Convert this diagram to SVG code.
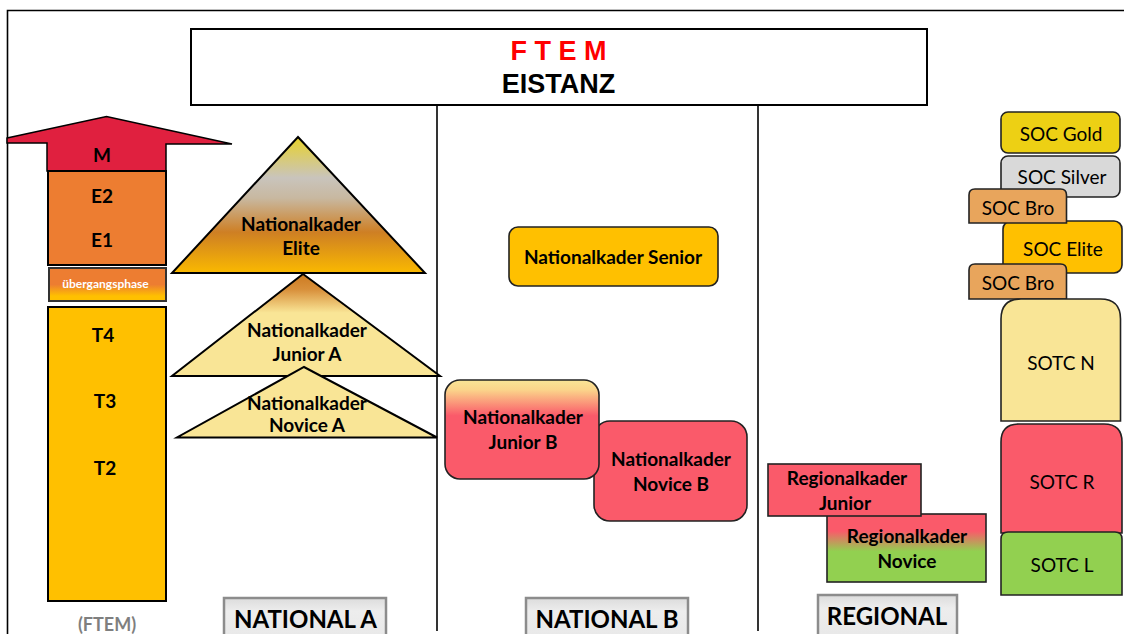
<svg xmlns="http://www.w3.org/2000/svg" width="1124" height="634" viewBox="0 0 1124 634">
<defs>
<linearGradient id="gElite" x1="0" y1="0" x2="0" y2="1">
<stop offset="0" stop-color="#E8D22A"/>
<stop offset="0.3" stop-color="#C9C4BC"/>
<stop offset="0.45" stop-color="#C8B8A0"/>
<stop offset="0.7" stop-color="#CE7F24"/>
<stop offset="1" stop-color="#FAB900"/>
</linearGradient>
<linearGradient id="gJunA" x1="0" y1="0" x2="0" y2="1">
<stop offset="0" stop-color="#CC7A20"/>
<stop offset="0.15" stop-color="#D88F3A"/>
<stop offset="0.38" stop-color="#F9E596"/>
<stop offset="1" stop-color="#F9E596"/>
</linearGradient>
<linearGradient id="gJunB" x1="0" y1="0" x2="0" y2="1">
<stop offset="0" stop-color="#F9E596"/>
<stop offset="0.1" stop-color="#FBD48A"/>
<stop offset="0.36" stop-color="#FA5A6A"/>
<stop offset="1" stop-color="#FA5A6A"/>
</linearGradient>
<linearGradient id="gRegN" x1="0" y1="0" x2="0" y2="1">
<stop offset="0" stop-color="#FA5A6A"/>
<stop offset="0.25" stop-color="#FA5A6A"/>
<stop offset="0.55" stop-color="#92D050"/>
<stop offset="1" stop-color="#92D050"/>
</linearGradient>
<linearGradient id="gUeb" x1="0" y1="0" x2="0" y2="1">
<stop offset="0" stop-color="#ED7D31"/>
<stop offset="0.5" stop-color="#ED7D31"/>
<stop offset="0.85" stop-color="#FFC000"/>
<stop offset="1" stop-color="#FFC000"/>
</linearGradient>
<linearGradient id="gLbl" x1="0" y1="0" x2="0" y2="1">
<stop offset="0" stop-color="#DCDCDC"/>
<stop offset="0.3" stop-color="#EDEDED"/>
<stop offset="1" stop-color="#E8E8E8"/>
</linearGradient>
</defs>
<style>
.b{font-family:Lato,"Liberation Sans",sans-serif;font-weight:bold;font-size:19px;fill:#000;text-anchor:middle}
.r{font-family:Lato,"Liberation Sans",sans-serif;font-size:19px;fill:#000;text-anchor:middle}
.s{stroke:#000;stroke-width:2}
.frame{stroke:#000;stroke-width:1.6;fill:none}
.lbl{fill:url(#gLbl);stroke:#8C8C8C;stroke-width:2.5}
.L{font-family:Lato,"Liberation Sans",sans-serif;font-weight:bold;font-size:24px;fill:#000;text-anchor:middle}
</style>
<rect width="1124" height="634" fill="#fff"/>
<g id="frame">
<path class="frame" d="M7.5,634 V10.5 H1124"/>
<line class="frame" x1="437" y1="105" x2="437" y2="631"/>
<line class="frame" x1="758" y1="105" x2="758" y2="631"/>
</g>
<g id="title">
<rect x="191" y="29" width="736" height="76" fill="#fff" stroke="#000" stroke-width="2"/>
<text x="558.5" y="60" font-family="Liberation Sans,Arial,sans-serif" font-weight="bold" font-size="27" fill="#FF0000" text-anchor="middle">F T E M</text>
<text x="558.5" y="93" font-family="Liberation Sans,Arial,sans-serif" font-weight="bold" font-size="27" fill="#000" text-anchor="middle">EISTANZ</text>
</g>
<g id="ftem-column">
<g id="arrow-M">
<path d="M7,138 L106.5,116.5 L232,144 L166,144 L166,171 L47,171 L47,143 L7,143 Z" fill="#E0203F" stroke="#000" stroke-width="1.5"/>
<text class="b" x="102" y="162">M</text>
</g>
<g id="E">
<rect class="s" x="48" y="171" width="118" height="94" fill="#ED7D31"/>
<text class="b" x="102" y="203">E2</text>
<text class="b" x="102" y="247">E1</text>
</g>
<g id="uebergang">
<rect x="49" y="268" width="117" height="33" fill="url(#gUeb)" stroke="#333" stroke-width="2"/>
<text x="105.5" y="288" font-family="Lato,'Liberation Sans',sans-serif" font-weight="bold" font-size="12" fill="#fff" text-anchor="middle">übergangsphase</text>
</g>
<g id="T">
<rect class="s" x="48" y="307" width="118" height="294" fill="#FFC000"/>
<text class="b" x="103" y="342">T4</text>
<text class="b" x="105" y="408">T3</text>
<text class="b" x="105" y="475">T2</text>
</g>
<text x="107" y="631" font-family="Lato,'Liberation Sans',sans-serif" font-weight="bold" font-size="18" fill="#7F7F7F" text-anchor="middle">(FTEM)</text>
</g>
<g id="nk-elite">
<polygon class="s" points="298,137 425,273 172,273" fill="url(#gElite)"/>
<text class="b" x="301" y="231">Nationalkader</text>
<text class="b" x="301" y="255">Elite</text>
</g>
<g id="nk-junior-a">
<polygon class="s" points="303,274 440,376 172,376" fill="url(#gJunA)"/>
<text class="b" x="307" y="337">Nationalkader</text>
<text class="b" x="307" y="361">Junior A</text>
</g>
<g id="nk-novice-a">
<polygon class="s" points="304,367 437,437.5 177,437.5" fill="#F9E596"/>
<text class="b" x="307" y="410" font-size="17">Nationalkader</text>
<text class="b" x="307" y="432" font-size="17">Novice A</text>
</g>
<g id="nk-senior">
<rect x="509" y="227" width="209" height="59" rx="9" fill="#FFC000" stroke="#222" stroke-width="1.6"/>
<text class="b" x="613" y="264">Nationalkader Senior</text>
</g>
<g id="nk-novice-b">
<rect x="594" y="421" width="153" height="100" rx="16" fill="#FA5A6A" stroke="#222" stroke-width="1.6"/>
<text class="b" x="671" y="466">Nationalkader</text>
<text class="b" x="671" y="491">Novice B</text>
</g>
<g id="nk-junior-b">
<rect x="445" y="380" width="154" height="99" rx="15" fill="url(#gJunB)" stroke="#222" stroke-width="1.6"/>
<text class="b" x="523" y="424">Nationalkader</text>
<text class="b" x="523" y="449">Junior B</text>
</g>
<g id="rk-novice">
<rect x="827" y="514" width="159" height="68" fill="url(#gRegN)" stroke="#222" stroke-width="1.6"/>
<text class="b" x="907" y="543">Regionalkader</text>
<text class="b" x="907" y="568">Novice</text>
</g>
<g id="rk-junior">
<rect x="768" y="464" width="153" height="52" fill="#FA5A6A" stroke="#222" stroke-width="1.6"/>
<text class="b" x="847" y="485">Regionalkader</text>
<text class="b" x="845" y="510">Junior</text>
</g>
<g id="soc-gold">
<rect x="1001" y="112" width="119" height="41" rx="7" fill="#EDD014" stroke="#222" stroke-width="1.6"/>
<text class="r" x="1061" y="141">SOC Gold</text>
</g>
<g id="soc-silver">
<rect x="1001" y="156" width="119" height="41" rx="7" fill="#D9D9D9" stroke="#222" stroke-width="1.6"/>
<text class="r" x="1062" y="184">SOC Silver</text>
</g>
<g id="soc-elite">
<rect x="1003" y="221" width="119" height="52" rx="8" fill="#FFC000" stroke="#222" stroke-width="1.6"/>
<text class="r" x="1063" y="256">SOC Elite</text>
</g>
<g id="soc-bro-1">
<path d="M969,223 V195 Q969,189 975,189 H1060.5 Q1066.5,189 1066.5,195 V223 Z" fill="#E8A55C" stroke="#222" stroke-width="1.6"/>
<text class="r" x="1018" y="215">SOC Bro</text>
</g>
<g id="soc-bro-2">
<path d="M969,299 V270 Q969,264 975,264 H1060.5 Q1066.5,264 1066.5,270 V299 Z" fill="#E8A55C" stroke="#222" stroke-width="1.6"/>
<text class="r" x="1018" y="290">SOC Bro</text>
</g>
<g id="sotc-n">
<path d="M1001,421 V319 Q1001,299 1021,299 H1100.5 Q1120.5,299 1120.5,319 V421 Z" fill="#F9E596" stroke="#222" stroke-width="1.6"/>
<text class="r" x="1061" y="370">SOTC N</text>
</g>
<g id="sotc-r">
<path d="M1001,533 V442 Q1001,424 1019,424 H1104 Q1122,424 1122,442 V533 Z" fill="#FA5A6A" stroke="#222" stroke-width="1.6"/>
<text class="r" x="1062" y="489">SOTC R</text>
</g>
<g id="sotc-l">
<path d="M1001,595 V539 Q1001,532 1008,532 H1115 Q1122,532 1122,539 V595 Z" fill="#92D050" stroke="#222" stroke-width="1.6"/>
<text class="r" x="1062" y="572">SOTC L</text>
</g>
<g id="label-national-a">
<rect class="lbl" x="224" y="598" width="162" height="44"/>
<text class="L" x="305.5" y="628">NATIONAL A</text>
</g>
<g id="label-national-b">
<rect class="lbl" x="526" y="598" width="162" height="44"/>
<text class="L" x="607" y="628">NATIONAL B</text>
</g>
<g id="label-regional">
<rect class="lbl" x="818" y="595" width="139" height="44"/>
<text class="L" x="887" y="625">REGIONAL</text>
</g>
<g id="connectors"/>
</svg>
